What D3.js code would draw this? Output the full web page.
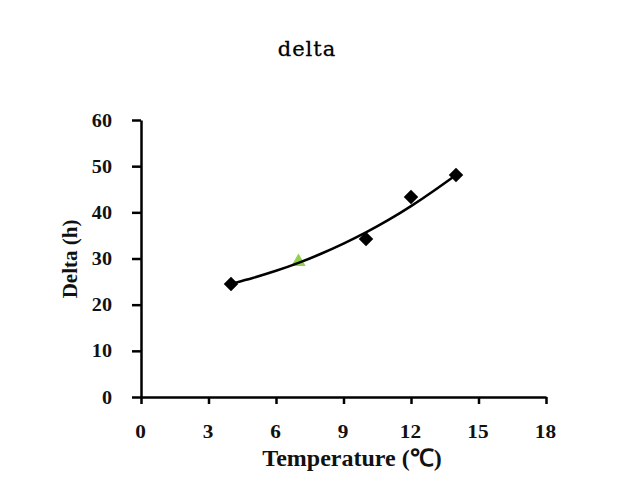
<!DOCTYPE html>
<html>
<head>
<meta charset="utf-8">
<script src="https://cdn.jsdelivr.net/npm/d3@7"></script>
<style>
  html, body { margin: 0; padding: 0; background: #fff; }
  svg { display: block; }
</style>
</head>
<body>
<svg id="chart" width="640" height="493"></svg>
<script>
// Data
const temperatures = [4, 10, 12, 14];
const deltaHours = [24.5, 34.2, 43.3, 48.1];
const greenTemperatures = [7];
const greenDeltaHours = [29.3];
const trendTemperatures = [4, 5, 6, 7, 8, 9, 10, 11, 12, 13, 14];
const trendDeltaHours = [24.5, 25.8, 27.3, 29.0, 31.0, 33.2, 35.6, 38.3, 41.3, 44.6, 48.1];
const xTicks = [0, 3, 6, 9, 12, 15, 18];
const yTicks = [0, 10, 20, 30, 40, 50, 60];

const svg = d3.select("#chart");
const x = d3.scaleLinear().domain([0, 18]).range([141, 546]);
const y = d3.scaleLinear().domain([0, 60]).range([397, 120]);

// Title
svg.append("text")
  .attr("x", 307).attr("y", 56)
  .attr("text-anchor", "middle")
  .style("font-family", "'DejaVu Serif', serif")
  .style("font-size", "21px")
  .style("letter-spacing", "1px")
  .style("fill", "#000")
  .style("stroke", "#000")
  .style("stroke-width", 0.3)
  .text("delta");

// Y axis
const yAxis = svg.append("g")
  .attr("transform", `translate(${x(0)},0)`)
  .call(d3.axisLeft(y).tickValues(yTicks).tickSize(9).tickSizeOuter(0).tickFormat(d3.format("d")));
yAxis.select(".domain").attr("stroke", "#000").attr("stroke-width", 2.5);
yAxis.selectAll(".tick line").attr("stroke", "#000").attr("stroke-width", 2.5);
yAxis.selectAll(".tick text")
  .attr("x", 0).attr("dy", null).attr("dominant-baseline", null)
  .attr("transform", "translate(-29,6) scale(1.12,1)")
  .attr("text-anchor", "end")
  .style("font-family", "'Liberation Serif', serif")
  .style("font-weight", "bold")
  .style("font-size", "18px")
  .style("fill", "#111");

// X axis
const xAxis = svg.append("g")
  .attr("transform", `translate(0,${y(0)})`)
  .call(d3.axisBottom(x).tickValues(xTicks).tickSize(7).tickSizeOuter(0).tickFormat(d3.format("d")));
xAxis.select(".domain").attr("stroke", "#000").attr("stroke-width", 2.5);
xAxis.selectAll(".tick line").attr("stroke", "#000").attr("stroke-width", 2.5);
xAxis.selectAll(".tick text")
  .attr("y", 0).attr("dy", null)
  .attr("transform", "translate(-1,41) scale(1.12,1)")
  .style("font-family", "'Liberation Serif', serif")
  .style("font-weight", "bold")
  .style("font-size", "19px")
  .style("fill", "#111");

// Axis titles
svg.append("text")
  .attr("x", 352).attr("y", 466)
  .attr("text-anchor", "middle")
  .style("font-family", "'Liberation Serif', serif")
  .style("font-weight", "bold")
  .style("font-size", "24px")
  .style("fill", "#111")
  .text("Temperature (℃)");

svg.append("text")
  .attr("transform", "translate(77,259) rotate(-90)")
  .attr("text-anchor", "middle")
  .style("font-family", "'Liberation Serif', serif")
  .style("font-weight", "bold")
  .style("font-size", "21px")
  .style("fill", "#111")
  .text("Delta (h)");

// Green triangle point
svg.selectAll(".green")
  .data(greenTemperatures.map((t, i) => [t, greenDeltaHours[i]]))
  .enter().append("path")
  .attr("class", "green")
  .attr("transform", d => `translate(${x(d[0])},${y(d[1])})`)
  .attr("d", d3.symbol().type(d3.symbolTriangle).size(90))
  .attr("fill", "#92d050");

// Trend curve
const line = d3.line().x(d => x(d[0])).y(d => y(d[1])).curve(d3.curveBasis);
svg.append("path")
  .datum(trendTemperatures.map((t, i) => [t, trendDeltaHours[i]]))
  .attr("d", line)
  .attr("fill", "none")
  .attr("stroke", "#000")
  .attr("stroke-width", 2.5);

// Diamond markers
svg.selectAll(".pt")
  .data(temperatures.map((t, i) => [t, deltaHours[i]]))
  .enter().append("path")
  .attr("class", "pt")
  .attr("transform", d => `translate(${x(d[0])},${y(d[1])}) rotate(45)`)
  .attr("d", d3.symbol().type(d3.symbolSquare).size(105))
  .attr("fill", "#000");
</script>
</body>
</html>
